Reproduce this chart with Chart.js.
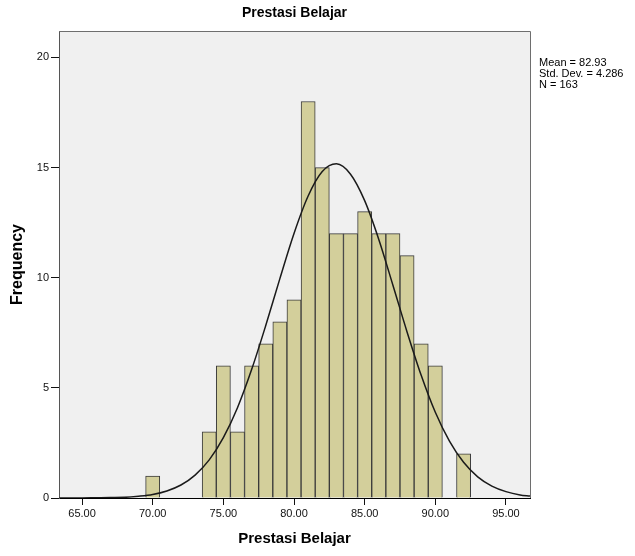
<!DOCTYPE html>
<html lang="en">
<head>
<meta charset="UTF-8">
<title>Prestasi Belajar</title>
<script src="https://cdn.jsdelivr.net/npm/chart.js@4.4.0/dist/chart.umd.min.js"></script>
<style>
  html, body { margin:0; padding:0; background:#fff; }
  #wrap { width:635px; height:556px; }
</style>
</head>
<body>
<div id="wrap"><canvas id="hist" width="635" height="556"></canvas></div>
<script>
// histogram data (bin width 1, centred on integers)
const judul = "Prestasi Belajar";
const binCenters = [70, 71, 72, 73, 74, 75, 76, 77, 78, 79, 80, 81, 82, 83, 84, 85, 86, 87, 88, 89, 90, 91, 92];
const counts     = [ 1,  0,  0,  0,  3,  6,  3,  6,  7,  8,  9, 18, 15, 12, 12, 13, 12, 12, 11,  7,  6,  0,  2];

// normal curve
const curveX = [63.4, 64, 65, 66, 67, 68, 69, 70, 71, 72, 73, 74, 75, 76, 77, 78, 79, 80, 81, 82, 83, 84, 85, 86, 87, 88, 89, 90, 91, 92, 93, 94, 95, 96, 96.7];
const curveY = [0.0, 0.0, 0.0, 0.01, 0.02, 0.03, 0.08, 0.16, 0.32, 0.59, 1.04, 1.73, 2.74, 4.10, 5.83, 7.83, 9.96, 12.01, 13.71, 14.82, 15.17, 14.70, 13.50, 11.74, 9.66, 7.54, 5.57, 3.89, 2.58, 1.62, 0.96, 0.54, 0.29, 0.14, 0.09];

const xTicks = [65, 70, 75, 80, 85, 90, 95];
const yTicks = [0, 5, 10, 15, 20];
const statLines = ["Mean = 82.93", "Std. Dev. = 4.286", "N = 163"];

const FONT = '"Liberation Sans", Arial, sans-serif';

// plot background, frame, title and the stats box on the right
const spssBits = {
  id: 'spssBits',
  beforeDraw(chart) {
    const {ctx, chartArea: a} = chart;
    ctx.save();
    ctx.fillStyle = '#f0f0f0';
    ctx.fillRect(a.left, a.top, a.right - a.left, a.bottom - a.top);
    ctx.restore();
  },
  afterDraw(chart) {
    const {ctx, chartArea: a} = chart;
    ctx.save();
    ctx.strokeStyle = '#6e6e6e';
    ctx.lineWidth = 1;
    ctx.beginPath();
    ctx.moveTo(a.left, a.top + 0.5);
    ctx.lineTo(a.right + 0.5, a.top + 0.5);
    ctx.lineTo(a.right + 0.5, a.bottom);
    ctx.stroke();

    ctx.fillStyle = '#000';
    ctx.font = 'bold 14px ' + FONT;
    ctx.textAlign = 'center';
    ctx.textBaseline = 'middle';
    ctx.fillText(judul, (a.left + a.right) / 2, 13);

    ctx.font = '11px ' + FONT;
    ctx.textAlign = 'left';
    statLines.forEach((t, i) => ctx.fillText(t, a.right + 9, 63 + i * 11));
    ctx.restore();
  }
};

new Chart(document.getElementById('hist'), {
  type: 'bar',
  data: {
    datasets: [{
      type: 'line',
      data: curveX.map((x, i) => ({x: x, y: curveY[i]})),
      borderColor: '#1a1a1a',
      borderWidth: 1.5,
      pointRadius: 0,
      cubicInterpolationMode: 'monotone',
      fill: false,
      order: 0
    }, {
      type: 'bar',
      data: binCenters.map((x, i) => ({x: x, y: counts[i]})),
      backgroundColor: '#d3cf9b',
      borderColor: '#3a3a3a',
      borderWidth: 1,
      barPercentage: 1,
      categoryPercentage: 1,
      order: 1
    }]
  },
  options: {
    responsive: false,
    animation: false,
    layout: { padding: { top: 31, right: 105, left: 0, bottom: 0 } },
    plugins: { legend: { display: false }, tooltip: { enabled: false }, title: { display: false } },
    scales: {
      x: {
        type: 'linear',
        min: 63.37, max: 96.7,
        offset: false,
        afterFit(s) { s.height = 58; },
        afterBuildTicks(s) { s.ticks = xTicks.map(v => ({value: v})); },
        grid: { display: true, drawOnChartArea: false, offset: false, tickLength: 7, tickColor: '#111' },
        border: { display: true, color: '#000', width: 1 },
        ticks: { padding: 2, color: '#111', font: { family: FONT, size: 11 }, maxRotation: 0,
                 callback: v => Number(v).toFixed(2) },
        title: { display: true, text: judul, color: '#000', font: { family: FONT, size: 15, weight: 'bold' },
                 padding: { top: 0, bottom: 8 } }
      },
      y: {
        type: 'linear',
        min: 0, max: 21.2,
        afterFit(s) { s.width = 59; },
        afterBuildTicks(s) { s.ticks = yTicks.map(v => ({value: v})); },
        grid: { display: true, drawOnChartArea: false, tickLength: 8, tickColor: '#111' },
        border: { display: true, color: '#555', width: 1 },
        ticks: { padding: 2, color: '#111', font: { family: FONT, size: 11 } },
        title: { display: true, text: 'Frequency', color: '#000', font: { family: FONT, size: 16, weight: 'bold' },
                 padding: { top: 8, bottom: 0 } }
      }
    }
  },
  plugins: [spssBits]
});
</script>
</body>
</html>
